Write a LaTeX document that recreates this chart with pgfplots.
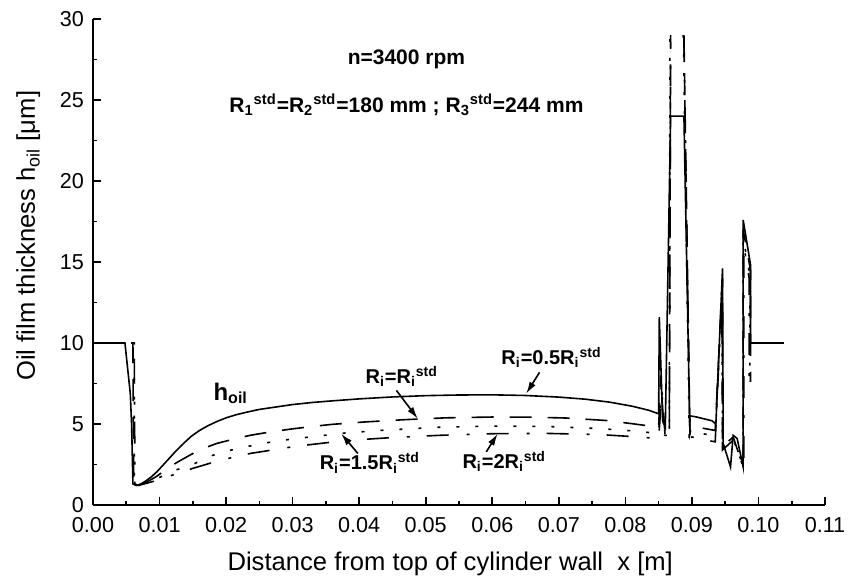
\documentclass[border=0pt]{standalone}
\usepackage{fontspec}
\setmainfont{Liberation Sans}
\usepackage{pgfplots}
\pgfplotsset{compat=1.18}
\usetikzlibrary{arrows.meta}

% R with a subscript index followed by a "std" superscript
\newcommand\Rstd[1]{R\textsubscript{#1}\textsuperscript{std}}

\begin{document}
\begin{tikzpicture}
\begin{axis}[
  name=ax,
  scale only axis, width=366pt, height=243pt,
  xmin=0, xmax=0.11, ymin=0, ymax=30,
  axis x line=bottom, axis y line=left,
  axis line style={-, line width=0.9pt},
  tick style={line width=0.8pt, black},
  tick align=inside, major tick length=4pt, minor tick length=2pt,
  xtick={0,0.01,0.02,0.03,0.04,0.05,0.06,0.07,0.08,0.09,0.10,0.11},
  ytick={0,5,10,15,20,25,30},
  minor x tick num=1, minor y tick num=1,
  scaled x ticks=false,
  xticklabel style={yshift=-2.5pt, /pgf/number format/.cd, fixed, fixed zerofill, precision=2},
  yticklabel style={xshift=-1pt},
  /pgf/number format/assume math mode=true,
  tick label style={font=\fontsize{10.8}{12}\selectfont},
  label style={font=\fontsize{12.8}{14}\selectfont},
  xlabel={Distance from top of cylinder wall\ \ x [m]},
  xlabel style={at={(ticklabel cs:0.488)}, yshift=-3pt},
  ylabel={Oil film thickness h\textsubscript{oil} [μm]},
  ylabel style={at={(ticklabel cs:0.554)}},
  ylabel shift=3pt,
  unbounded coords=jump,
]

% R_i = 0.5 R_i^std (solid)
\addplot[black, solid, line width=0.8pt, no markers] coordinates {
 (0,10) (0.0048,10) (0.0056,6.9) (0.0058,5.0) (0.0060,1.3) (0.0065,1.2)
 (0.0072,1.3) (0.0080,1.5) (0.0088,1.75) (0.0096,2.05) (0.0105,2.45)
 (0.0115,2.9) (0.0125,3.35) (0.0136,3.8) (0.0148,4.25) (0.0160,4.6)
 (0.0173,4.9) (0.0186,5.15) (0.0200,5.38) (0.0215,5.57) (0.0230,5.72)
 (0.0250,5.9) (0.0275,6.05) (0.0300,6.2) (0.0330,6.33) (0.0360,6.43)
 (0.0400,6.55) (0.0450,6.67) (0.0500,6.75) (0.0550,6.79) (0.0600,6.8)
 (0.0650,6.76) (0.0700,6.66) (0.0740,6.53) (0.0776,6.35) (0.0810,6.1)
 (0.0835,5.85) (0.0850,5.63) (0.0851,11.6) (0.0856,5.2) (0.0860,4.8)
 (0.0868,24.0) (0.0888,24.0) (0.0897,4.4) (0.0897,5.5) (0.0905,5.45)
 (0.0915,5.35) (0.0930,5.2) (0.0936,5.0) (0.0946,14.6) (0.0947,3.8)
 (0.0958,2.35) (0.0962,4.3) (0.0968,4.1) (0.0977,2.35) (0.0977,17.6)
 (0.0988,14.85) (0.0988,10) (0.1038,10)
};

% R_i = R_i^std (long dashes)
\addplot[black, line width=0.8pt, no markers, dash pattern=on 11pt off 8pt] coordinates {
 (0,10) (0.0060,10) (0.0061,1.3) (0.0066,1.2) (0.0080,1.4) (0.0095,1.75)
 (0.0110,2.2) (0.0125,2.6) (0.0140,2.95) (0.0160,3.4) (0.0186,3.8)
 (0.0210,4.05) (0.0236,4.3) (0.0265,4.5) (0.0296,4.68) (0.0330,4.85)
 (0.0360,4.98) (0.0410,5.13) (0.0470,5.27) (0.0530,5.38) (0.0600,5.43)
 (0.0660,5.42) (0.0710,5.37) (0.0770,5.22) (0.0810,5.02) (0.0850,4.8)
 (0.0853,8.0) (0.0858,4.6) (0.0866,4.5) (0.0868,29) (0.0878,nan)
 (0.0888,29) (0.0897,4.4) (0.0900,4.9) (0.0915,4.75) (0.0935,4.6)
 (0.0946,14.0) (0.0946,3.6) (0.0962,4.2) (0.0977,2.35) (0.0977,17.0)
 (0.0988,14.5) (0.0988,7.6)
};

% R_i = 1.5 R_i^std (dots)
\addplot[black, line width=0.8pt, no markers, dash pattern=on 1.5pt off 8pt] coordinates {
 (0,10) (0.0062,10) (0.0062,1.3) (0.0068,1.2) (0.0085,1.45) (0.0100,1.7)
 (0.0120,2.1) (0.0150,2.5) (0.0175,3.0) (0.0196,3.28) (0.0230,3.6)
 (0.0276,3.95) (0.0326,4.2) (0.0380,4.45) (0.0438,4.62) (0.0520,4.8)
 (0.0600,4.87) (0.0680,4.85) (0.0760,4.72) (0.0820,4.55) (0.0850,4.4)
 (0.0854,7.5) (0.0859,4.3) (0.0866,4.3) (0.0867,29) (0.0878,nan)
 (0.0887,29) (0.0896,4.3) (0.0900,4.6) (0.0915,4.4) (0.0935,4.3)
 (0.0945,13.5) (0.0946,3.5) (0.0962,4.1) (0.0977,2.35) (0.0977,16.5)
 (0.0987,14.2) (0.0987,7.6)
};

% R_i = 2 R_i^std (dash-dot)
\addplot[black, line width=0.8pt, no markers, dash pattern=on 11pt off 9pt on 1.5pt off 8.5pt] coordinates {
 (0,10) (0.0062,10) (0.0063,1.3) (0.0068,1.2) (0.0090,1.45) (0.0120,1.85)
 (0.0150,2.26) (0.0190,2.75) (0.0236,3.18) (0.0306,3.63) (0.0380,3.98)
 (0.0445,4.15) (0.0520,4.3) (0.0600,4.4) (0.0680,4.42) (0.0760,4.35)
 (0.0820,4.2) (0.0850,4.1) (0.0855,7.0) (0.0860,4.1) (0.0866,4.1)
 (0.0868,28.6) (0.0878,nan) (0.0888,28.7) (0.0897,4.1) (0.0900,4.2)
 (0.0915,4.05) (0.0935,3.9) (0.0945,13.0) (0.0946,3.4) (0.0962,4.0)
 (0.0978,2.35) (0.0978,16.0) (0.0986,14.0) (0.0986,7.6)
};

\node[font=\bfseries\fontsize{10.5}{12}\selectfont] at (axis cs:0.0471,27.5) {n=3400 rpm};
\node[font=\bfseries\fontsize{10.5}{12}\selectfont] at (axis cs:0.0471,24.7)
  {\Rstd{1}=\Rstd{2}=180 mm ; \Rstd{3}=244 mm};
\node[font=\bfseries\fontsize{12}{14}\selectfont] at (axis cs:0.0207,6.9) {h\textsubscript{oil}};

\node[font=\bfseries\fontsize{10}{12}\selectfont] at (axis cs:0.0689,9.1) {R\textsubscript{i}=0.5\Rstd{i}};
\draw[-{Latex[length=6pt,width=3.5pt]}, line width=0.8pt] (axis cs:0.0671,8.19) -- (axis cs:0.0651,6.87);

\node[font=\bfseries\fontsize{10}{12}\selectfont] at (axis cs:0.0464,7.93) {R\textsubscript{i}=\Rstd{i}};
\draw[-{Latex[length=6pt,width=3.5pt]}, line width=0.8pt] (axis cs:0.0456,7.07) -- (axis cs:0.0488,5.33);

\node[font=\bfseries\fontsize{10}{12}\selectfont] at (axis cs:0.0416,2.6) {R\textsubscript{i}=1.5\Rstd{i}};
\draw[-{Latex[length=6pt,width=3.5pt]}, line width=0.8pt] (axis cs:0.0398,3.18) -- (axis cs:0.0373,4.4);

\node[font=\bfseries\fontsize{10}{12}\selectfont] at (axis cs:0.0618,2.7) {R\textsubscript{i}=2\Rstd{i}};
\draw[-{Latex[length=6pt,width=3.5pt]}, line width=0.8pt] (axis cs:0.0591,3.28) -- (axis cs:0.0608,4.4);

\end{axis}
\pgfresetboundingbox
\path (ax.south west) ++(-46.5pt,-38pt) rectangle ++(424.5pt,290.5pt);
\end{tikzpicture}
\end{document}
